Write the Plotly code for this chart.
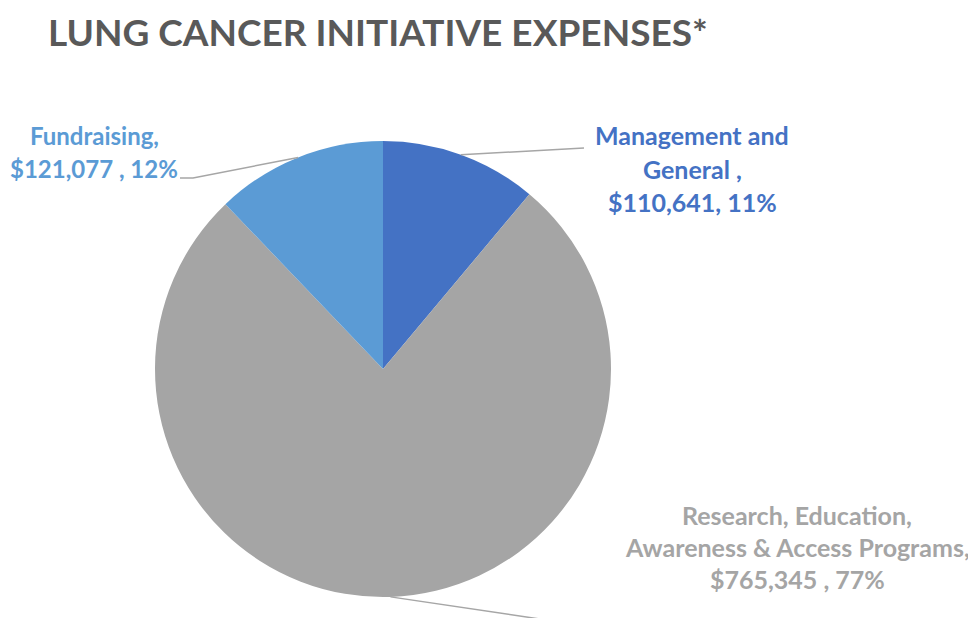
import math
import plotly.graph_objects as go

W, H = 976, 618
OFF = 8  # page body margin offset

# Data
categories = ["Management and General", "Research, Education, Awareness & Access Programs", "Fundraising"]
values = [110641, 765345, 121077]
colors = ["#4472C4", "#A5A5A5", "#5B9BD5"]
label_lines = [
    ["Management and", "General ,", "$110,641, 11%"],
    ["Research, Education,", "Awareness & Access Programs,", "$765,345 , 77%"],
    ["Fundraising,", "$121,077 , 12%"],
]
title_text = "LUNG CANCER INITIATIVE EXPENSES*"

# Layout geometry (screen pixels)
cx, cy, R = 383, 369, 228
font = "Lato, 'Open Sans', sans-serif"


def px(x):
    return (x - OFF) / W


def py(y):
    return 1 - (y - OFF) / H


fig = go.Figure(go.Pie(
    labels=categories,
    values=values,
    sort=False,
    direction="clockwise",
    rotation=0,
    marker=dict(colors=colors, line=dict(width=0)),
    textinfo="none",
    hoverinfo="label+value+percent",
    domain=dict(x=[px(cx - R), px(cx + R)], y=[py(cy + R), py(cy - R)]),
    showlegend=False,
))

label_pos = [
    dict(x=692, ys=[136, 170, 203], size=25),
    dict(x=797, ys=[516, 548, 580], size=25),
    dict(x=94, ys=[136, 170], size=24),
]
leader_ends = [
    [(584, 148)],
    [(580, 625)],
    [(193, 178), (180, 178)],
]

annotations = []
shapes = []
total = sum(values)
cum = 0
for i, v in enumerate(values):
    mid = (cum + v / 2) / total * 2 * math.pi
    cum += v
    ax = cx + R * math.sin(mid)
    ay = cy - R * math.cos(mid)
    pts = [(ax, ay)] + leader_ends[i]
    path = "M " + " L ".join(f"{px(a)},{py(b)}" for a, b in pts)
    shapes.append(dict(type="path", xref="paper", yref="paper", path=path,
                       line=dict(color="#A6A6A6", width=1.5)))
    lp = label_pos[i]
    for line, yy in zip(label_lines[i], lp["ys"]):
        annotations.append(dict(
            text=f"<b>{line}</b>", x=px(lp["x"]), y=py(yy - 1), xref="paper", yref="paper",
            xanchor="center", yanchor="middle", showarrow=False, borderpad=0,
            font=dict(family=font, size=lp["size"], color=colors[i]),
        ))

annotations.append(dict(
    text=f"<b>{title_text}</b>", x=px(47), y=py(32), xref="paper", yref="paper",
    xanchor="left", yanchor="middle", showarrow=False, borderpad=0,
    font=dict(family=font, size=37, color="#595959"),
))

fig.update_layout(
    width=W, height=H,
    margin=dict(l=0, r=0, t=0, b=0),
    paper_bgcolor="white", plot_bgcolor="white",
    annotations=annotations, shapes=shapes,
)

fig.write_html("out.html")
